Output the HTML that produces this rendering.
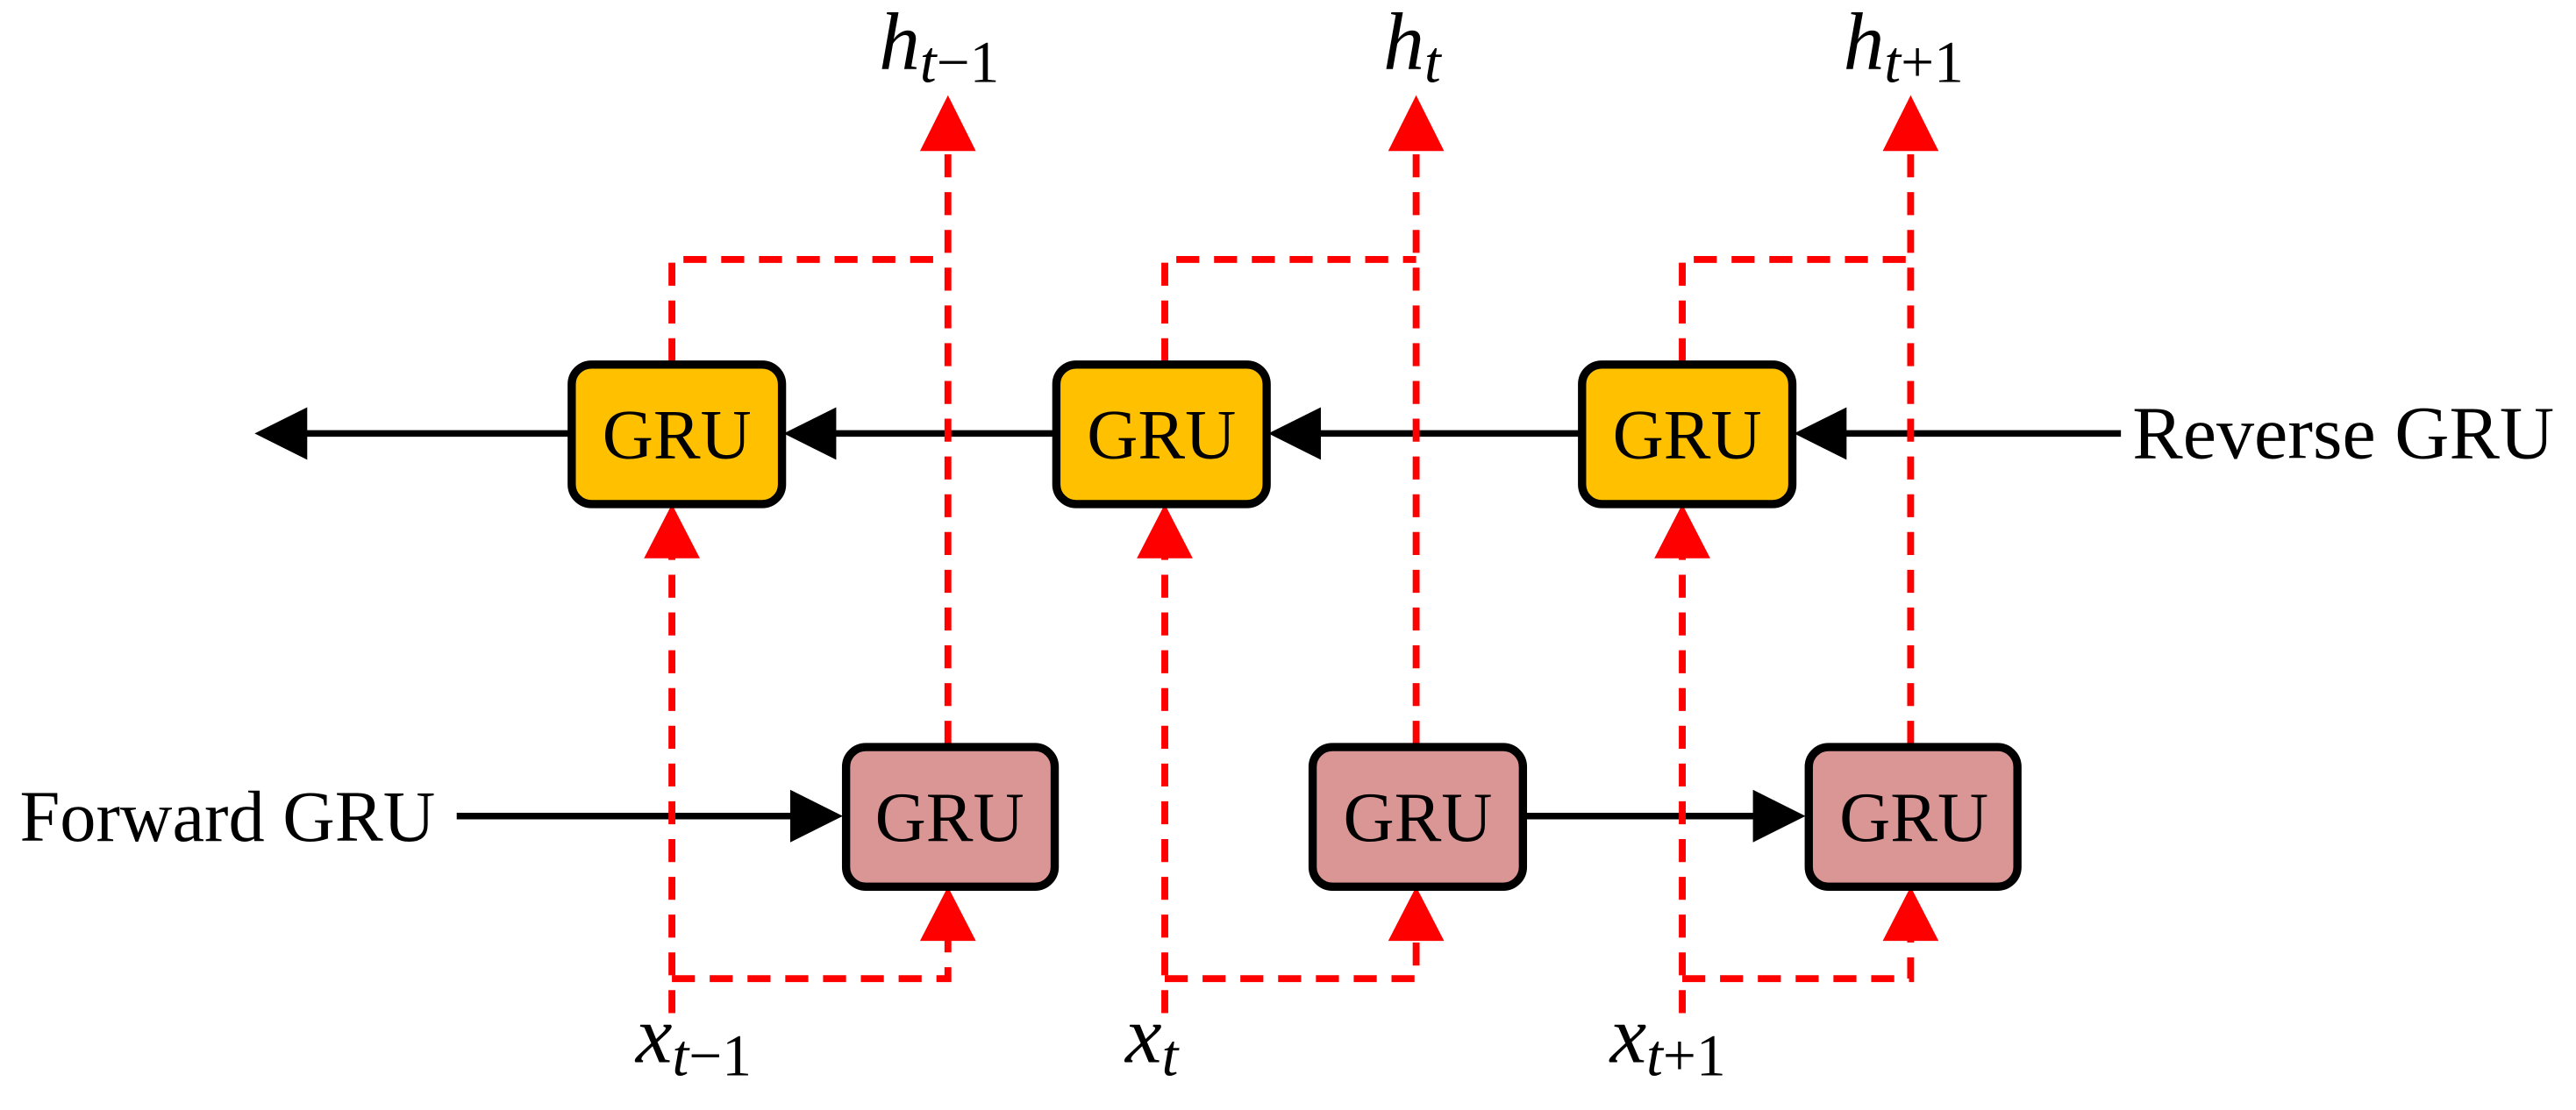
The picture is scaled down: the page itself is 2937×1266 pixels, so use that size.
<!DOCTYPE html>
<html><head><style>html,body{margin:0;padding:0;background:#fff}svg{display:block}</style></head><body>
<svg width="2937" height="1266" viewBox="0 0 1568 676" preserveAspectRatio="none" xmlns="http://www.w3.org/2000/svg" font-family="'Liberation Serif', serif">
<g stroke="#000" stroke-width="4">
<line x1="180" y1="264" x2="346" y2="264"/>
<line x1="505" y1="264" x2="641" y2="264"/>
<line x1="800" y1="264" x2="961" y2="264"/>
<line x1="1120" y1="264" x2="1291" y2="264"/>
<line x1="278" y1="497" x2="485" y2="497"/>
<line x1="928" y1="497" x2="1071" y2="497"/>
</g>
<g fill="#000">
<polygon points="155,264 187,248 187,280"/>
<polygon points="477,264 509,248 509,280"/>
<polygon points="772,264 804,248 804,280"/>
<polygon points="1092,264 1124,248 1124,280"/>
<polygon points="513,497 481,481 481,513"/>
<polygon points="1099,497 1067,481 1067,513"/>
</g>
<g stroke="#FF0000" stroke-width="4.2" fill="none" stroke-dasharray="14,9">
<path d="M409,617 V339"/><path d="M409,220 V158 H577"/><path d="M577,453 V92"/><path d="M409,596 H577 V571"/>
<path d="M709,617 V339"/><path d="M709,220 V158 H862"/><path d="M862,453 V92"/><path d="M709,596 H862 V571"/>
<path d="M1024,617 V339"/><path d="M1024,220 V158 H1163"/><path d="M1163,453 V92"/><path d="M1024,596 H1163 V571"/>
</g>
<g fill="#FF0000">
<polygon points="409,307 392,340 426,340"/><polygon points="577,58 560,92 594,92"/><polygon points="577,540 560,573 594,573"/>
<polygon points="709,307 692,340 726,340"/><polygon points="862,58 845,92 879,92"/><polygon points="862,540 845,573 879,573"/>
<polygon points="1024,307 1007,340 1041,340"/><polygon points="1163,58 1146,92 1180,92"/><polygon points="1163,540 1146,573 1180,573"/>
</g>
<g stroke="#000" stroke-width="5">
<rect x="348" y="222" width="128" height="85" rx="12" fill="#FFC000"/>
<rect x="643" y="222" width="128" height="85" rx="12" fill="#FFC000"/>
<rect x="963" y="222" width="128" height="85" rx="12" fill="#FFC000"/>
<rect x="515" y="455" width="127" height="85" rx="12" fill="#D99694"/>
<rect x="799" y="455" width="128" height="85" rx="12" fill="#D99694"/>
<rect x="1101" y="455" width="127" height="85" rx="12" fill="#D99694"/>
</g>
<g font-size="43" text-anchor="middle" fill="#000">
<text x="412" y="279">GRU</text><text x="707" y="279">GRU</text><text x="1027" y="279">GRU</text>
<text x="578" y="512">GRU</text><text x="863" y="512">GRU</text><text x="1165" y="512">GRU</text>
</g>
<g fill="#000">
<text x="1298" y="279" font-size="46">Reverse GRU</text>
<text x="12" y="512" font-size="44">Forward GRU</text>
</g>
<g font-size="50" font-style="italic" fill="#000">
<text x="535" y="42">h<tspan font-size="36" dy="8">t</tspan><tspan font-size="36" font-style="normal">−1</tspan></text>
<text x="842" y="42">h<tspan font-size="36" dy="8">t</tspan></text>
<text x="1122" y="42">h<tspan font-size="36" dy="8">t</tspan><tspan font-size="36" font-style="normal">+1</tspan></text>
<text x="387" y="647">x<tspan font-size="36" dy="8">t</tspan><tspan font-size="36" font-style="normal">−1</tspan></text>
<text x="685" y="647">x<tspan font-size="36" dy="8">t</tspan></text>
<text x="980" y="647">x<tspan font-size="36" dy="8">t</tspan><tspan font-size="36" font-style="normal">+1</tspan></text>
</g>
</svg>
</body></html>
